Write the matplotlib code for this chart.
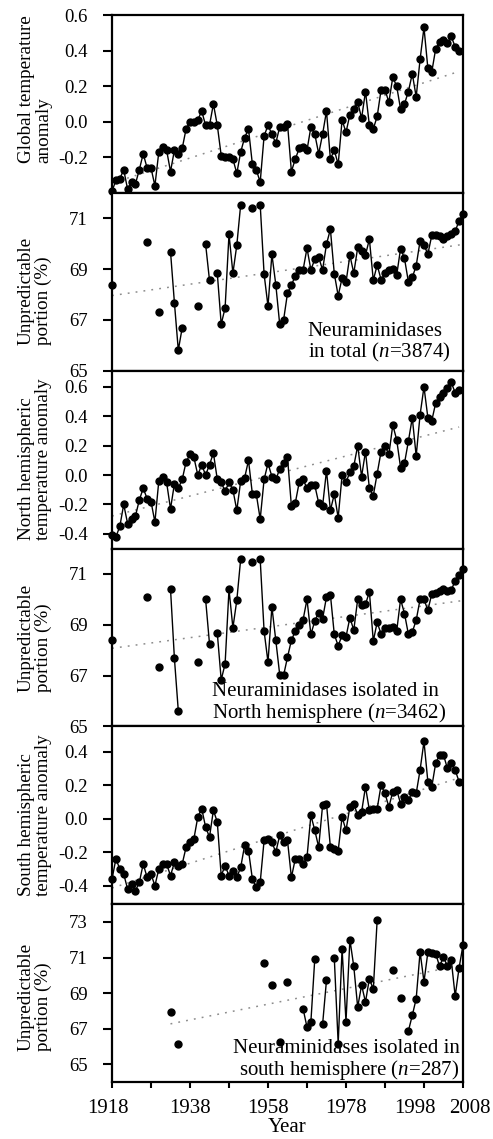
import numpy as np
import pandas as pd
import matplotlib
matplotlib.use('Agg')
import matplotlib.pyplot as plt
from matplotlib.transforms import ScaledTranslation

plt.rcParams['font.family'] = ['Liberation Serif', 'DejaVu Serif']
plt.rcParams['mathtext.fontset'] = 'custom'
plt.rcParams['mathtext.rm'] = 'Liberation Serif'
plt.rcParams['mathtext.it'] = 'Liberation Serif:italic'
plt.rcParams['axes.unicode_minus'] = False

# temperature anomalies, one value per year 1918-2007
temp_years = list(range(1918, 2008))
global_temp = [-0.39, -0.33, -0.32, -0.27, -0.38, -0.34, -0.35, -0.27, -0.18, -0.26,
               -0.26, -0.36, -0.17, -0.14, -0.16, -0.28, -0.16, -0.18, -0.15, -0.04,
               0.00, 0.00, 0.01, 0.06, -0.02, -0.02, 0.10, -0.02, -0.19, -0.20,
               -0.20, -0.21, -0.29, -0.17, -0.09, -0.04, -0.24, -0.27, -0.34, -0.08,
               -0.02, -0.07, -0.12, -0.03, -0.03, -0.01, -0.28, -0.21, -0.15, -0.14,
               -0.16, -0.03, -0.07, -0.18, -0.07, 0.06, -0.21, -0.16, -0.24, 0.01,
               -0.06, 0.04, 0.07, 0.11, 0.02, 0.17, -0.02, -0.04, 0.03, 0.18,
               0.18, 0.11, 0.25, 0.20, 0.07, 0.10, 0.17, 0.27, 0.14, 0.35,
               0.53, 0.30, 0.28, 0.41, 0.45, 0.46, 0.44, 0.48, 0.42, 0.40]
north_temp = [-0.41, -0.42, -0.35, -0.20, -0.33, -0.30, -0.28, -0.17, -0.09, -0.16,
              -0.18, -0.32, -0.04, -0.01, -0.05, -0.23, -0.06, -0.09, -0.03, 0.09,
              0.14, 0.12, 0.00, 0.07, 0.00, 0.07, 0.15, -0.03, -0.05, -0.11,
              -0.05, -0.10, -0.24, -0.04, -0.02, 0.10, -0.13, -0.13, -0.30, -0.03,
              0.08, -0.01, -0.03, 0.04, 0.08, 0.12, -0.21, -0.19, -0.05, -0.03,
              -0.09, -0.07, -0.07, -0.19, -0.21, 0.03, -0.24, -0.13, -0.29, 0.00,
              -0.05, 0.02, 0.06, 0.20, -0.01, 0.16, -0.09, -0.14, 0.01, 0.16,
              0.20, 0.14, 0.34, 0.24, 0.05, 0.08, 0.23, 0.39, 0.13, 0.41,
              0.60, 0.39, 0.37, 0.49, 0.53, 0.56, 0.59, 0.63, 0.56, 0.58]
south_temp = [-0.36, -0.24, -0.30, -0.33, -0.42, -0.39, -0.43, -0.38, -0.27, -0.35,
              -0.33, -0.40, -0.30, -0.27, -0.27, -0.34, -0.26, -0.28, -0.27, -0.17,
              -0.14, -0.12, 0.01, 0.06, -0.05, -0.11, 0.05, -0.02, -0.34, -0.28,
              -0.34, -0.31, -0.35, -0.29, -0.16, -0.19, -0.36, -0.41, -0.38, -0.13,
              -0.12, -0.14, -0.20, -0.10, -0.14, -0.13, -0.35, -0.24, -0.24, -0.27,
              -0.23, 0.02, -0.07, -0.17, 0.08, 0.09, -0.17, -0.18, -0.19, 0.01,
              -0.07, 0.07, 0.09, 0.02, 0.04, 0.19, 0.05, 0.06, 0.06, 0.20,
              0.15, 0.07, 0.16, 0.17, 0.09, 0.13, 0.11, 0.16, 0.15, 0.29,
              0.46, 0.22, 0.19, 0.33, 0.38, 0.38, 0.30, 0.33, 0.29, 0.22]

# unpredictable portion (%), only years with sequences
total_years = [1918, 1927, 1930, 1933, 1934, 1935, 1936, 1940, 1942, 1943,
               1945, 1946, 1947, 1948, 1949, 1950, 1951, 1954] + list(range(1956, 2009))
total_unpred = [68.39, 70.08, 67.33, 69.69, 67.68, 65.81, 66.69, 67.54, 69.98, 68.56,
                68.83, 66.83, 67.47, 70.37, 68.84, 69.94, 71.54, 71.42,
                71.54, 68.80, 67.54, 69.58, 68.39, 66.83, 67.00, 68.05, 68.37, 68.73, 68.97, 68.97,
                69.82, 68.97, 69.39, 69.46, 68.97, 69.98, 70.57, 68.82, 67.95, 68.65,
                68.48, 69.54, 68.84, 69.85, 69.72, 69.55, 70.18, 68.56, 69.16, 68.58,
                68.83, 68.96, 68.99, 68.76, 69.81, 69.42, 68.50, 68.67, 69.13, 70.11,
                69.94, 69.59, 70.33, 70.33, 70.31, 70.18, 70.31, 70.40, 70.49, 70.90, 71.16]

north_years = [1918, 1927, 1930, 1933, 1934, 1935, 1940, 1942, 1943,
               1945, 1946, 1947, 1948, 1949, 1950, 1951, 1954] + list(range(1956, 2009))
north_unpred = [68.39, 70.11, 67.33, 70.41, 67.68, 65.61, 67.53, 70.00, 68.25,
                68.67, 66.83, 67.46, 70.39, 68.88, 69.96, 71.59, 71.47,
                71.57, 68.75, 67.53, 69.70, 68.39, 67.04, 67.01, 67.72, 68.39, 68.75, 69.00, 69.20,
                70.00, 68.62, 69.15, 69.48, 69.24, 70.09, 70.19, 68.62, 68.17, 68.59,
                68.52, 69.28, 68.79, 70.00, 69.76, 69.80, 70.30, 68.36, 69.10, 68.63,
                68.88, 68.88, 68.92, 68.75, 70.00, 69.44, 68.63, 68.71, 69.18, 70.00,
                70.00, 69.57, 70.22, 70.26, 70.34, 70.40, 70.34, 70.37, 70.73, 70.97, 71.20]

south_years = [1933, 1935, 1957, 1959, 1961, 1963, 1967, 1968, 1969, 1970, 1972, 1973] + \
              list(range(1975, 1987)) + [1990, 1992] + list(range(1994, 2009))
south_unpred = [67.93, 66.16, 70.70, 69.45, 66.25, 69.60, 68.12, 67.09, 67.39, 70.94, 67.24, 69.73,
                70.98, 66.16, 71.50, 67.39, 72.01, 70.50, 68.21, 69.45, 68.50, 69.82, 69.21, 73.13,
                70.29, 68.70,
                66.87, 67.75, 68.68, 71.32, 69.64, 71.30, 71.26, 71.22, 70.51, 71.04,
                70.51, 70.85, 68.83, 70.42, 71.69]

year_ticks = list(range(1918, 2009, 10))
year_labels = ['1918', '', '1938', '', '1958', '', '1978', '', '1998', '2008']

panels = [
    (temp_years, global_temp, 'Global temperature\nanomaly', (-0.4, 0.6), [-0.2, 0.0, 0.2, 0.4, 0.6], None),
    (total_years, total_unpred, 'Unpredictable\nportion (%)', (65, 72), [65, 67, 69, 71],
     'Neuraminidases\nin total ($\\mathit{n}$=3874)'),
    (temp_years, north_temp, 'North hemispheric\ntemperature anomaly', (-0.5, 0.71), [-0.4, -0.2, 0.0, 0.2, 0.4, 0.6], None),
    (north_years, north_unpred, 'Unpredictable\nportion (%)', (65, 72), [65, 67, 69, 71],
     'Neuraminidases isolated in\nNorth hemisphere ($\\mathit{n}$=3462)'),
    (temp_years, south_temp, 'South hemispheric\ntemperature anomaly', (-0.51, 0.55), [-0.4, -0.2, 0.0, 0.2, 0.4], None),
    (south_years, south_unpred, 'Unpredictable\nportion (%)', (64, 74), [65, 67, 69, 71, 73],
     'Neuraminidases isolated in\nsouth hemisphere ($\\mathit{n}$=287)'),
]
label_y = [0.585, 0.45, 0.5, 0.5, 0.5, 0.48]

fig, axes = plt.subplots(6, 1, figsize=(4.93, 11.39), dpi=100, sharex=True)
fig.subplots_adjust(left=0.2272, right=0.9391, top=0.9868, bottom=0.0500, hspace=0)

for i, (ax, (yrs, vals, label, ylim, yticks, note)) in enumerate(zip(axes, panels)):
    s = pd.Series(vals, index=yrs).reindex(range(min(yrs), max(yrs) + 1))
    # linear trend
    coef = np.polyfit(yrs, vals, 1)
    xt = np.array([min(yrs), max(yrs)])
    ax.plot(xt, np.polyval(coef, xt), color='0.55', lw=1.1, ls=(0, (1.2, 4)))
    ax.plot(s.index, s.values, color='black', lw=1.0)
    ax.plot(yrs, vals, 'o', color='black', ms=5, clip_on=False, zorder=5)

    ax.set_xlim(1918, 2008)
    ax.set_ylim(*ylim)
    ax.set_yticks(yticks)
    if isinstance(yticks[0], float):
        ax.set_yticklabels(['%.1f' % t for t in yticks])
    ax.tick_params(axis='y', direction='out', length=6.5, width=1.5, pad=11, labelsize=13.5)
    ax.set_ylabel(label, fontsize=13.8, linespacing=1.0, multialignment='left')
    ax.yaxis.set_label_coords(-0.17, label_y[i])
    for sp in ax.spines.values():
        sp.set_linewidth(1.6)
    if note is not None:
        if i == 5:
            ax.text(0.99, 0.0, note, transform=ax.transAxes, ha='right', va='bottom',
                    fontsize=15, linespacing=1.0, multialignment='right')
        elif i == 3:
            ax.text(0.285, 0.005, note, transform=ax.transAxes, ha='left', va='bottom',
                    fontsize=15, linespacing=1.0)
        else:
            ax.text(0.558, 0.04, note, transform=ax.transAxes, ha='left', va='bottom',
                    fontsize=15, linespacing=1.0)
    if i < 5:
        ax.tick_params(axis='x', length=0, labelbottom=False)

ax = axes[-1]
ax.set_xticks(year_ticks)
ax.set_xticklabels(year_labels)
ax.tick_params(axis='x', direction='out', length=4, width=1.5, pad=8, labelsize=15)
ax.set_xlabel('Year', fontsize=15, labelpad=0)
# spread the two last labels apart like the original
tl = ax.get_xticklabels()
tl[0].set_transform(tl[0].get_transform() + ScaledTranslation(-4 / 100, 0, fig.dpi_scale_trans))
tl[8].set_transform(tl[8].get_transform() + ScaledTranslation(-9 / 100, 0, fig.dpi_scale_trans))
tl[9].set_transform(tl[9].get_transform() + ScaledTranslation(7 / 100, 0, fig.dpi_scale_trans))

plt.savefig('out.png', dpi=100)
